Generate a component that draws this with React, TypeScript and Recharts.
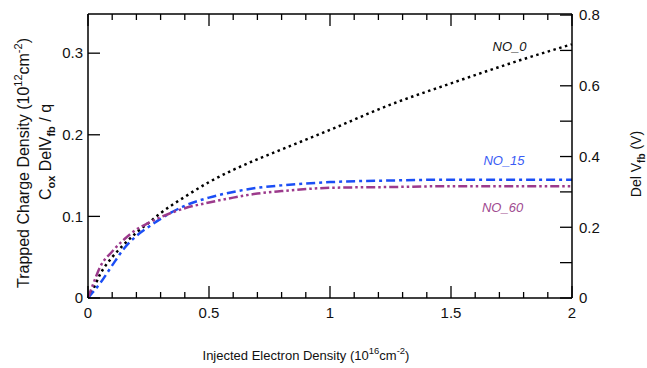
import React from 'react';
import { LineChart, Line, XAxis, YAxis, ReferenceDot } from 'recharts';

const xValues = [0, 0.02, 0.05, 0.1, 0.15, 0.2, 0.25, 0.3, 0.4, 0.5, 0.6, 0.7, 0.8, 1.0, 1.25, 1.5, 1.75, 2.0];
const no0 = [0, 0.01, 0.029, 0.05, 0.066, 0.08, 0.092, 0.104, 0.124, 0.142, 0.157, 0.17, 0.182, 0.206, 0.237, 0.263, 0.288, 0.311];
const no15 = [0, 0.007, 0.018, 0.04, 0.061, 0.076, 0.087, 0.097, 0.113, 0.123, 0.13, 0.135, 0.138, 0.142, 0.144, 0.145, 0.145, 0.145];
const no60 = [0, 0.016, 0.038, 0.057, 0.072, 0.084, 0.092, 0.099, 0.11, 0.117, 0.123, 0.128, 0.131, 0.135, 0.136, 0.137, 0.137, 0.137];

const xTicks = [0, 0.1, 0.2, 0.3, 0.4, 0.5, 0.6, 0.7, 0.8, 0.9, 1, 1.1, 1.2, 1.3, 1.4, 1.5, 1.6, 1.7, 1.8, 1.9, 2];
const xMajor = [0, 0.5, 1, 1.5, 2];
const leftTicks = [0, 0.1, 0.2, 0.3];
const rightTicks = [0, 0.1, 0.2, 0.3, 0.4, 0.5, 0.6, 0.7, 0.8];
const rightLabeled = [0, 0.2, 0.4, 0.6, 0.8];

const data = xValues.map((x, i) => ({ x, no0: no0[i], no15: no15[i], no60: no60[i] }));

const FONT = '"Liberation Sans", Arial, sans-serif';
const TICK_FS = 15;

const isIn = (arr: number[], v: number) => arr.some((a) => Math.abs(a - v) < 1e-6);

const BottomTick = (props: any) => {
  const { x, y, payload } = props;
  const v = payload.value;
  const major = isIn(xMajor, v);
  return (
    <g>
      <line x1={x} y1={y} x2={x} y2={y - (major ? 12 : 6)} stroke="#000" strokeWidth={1.3} />
      {major && (
        <text x={x} y={y + 20} textAnchor="middle" fontSize={TICK_FS} fontFamily={FONT} fill="#111">
          {String(v)}
        </text>
      )}
    </g>
  );
};

const TopTick = (props: any) => {
  const { x, y, payload } = props;
  const major = isIn(xMajor, payload.value);
  return <line x1={x} y1={y} x2={x} y2={y + (major ? 12 : 6)} stroke="#000" strokeWidth={1.3} />;
};

const LeftTick = (props: any) => {
  const { x, y, payload } = props;
  return (
    <g>
      <line x1={x} y1={y} x2={x + 12} y2={y} stroke="#000" strokeWidth={1.3} />
      <text x={x - 5} y={y} dy="0.35em" textAnchor="end" fontSize={TICK_FS} fontFamily={FONT} fill="#111">
        {String(payload.value)}
      </text>
    </g>
  );
};

const RightTick = (props: any) => {
  const { x, y, payload } = props;
  const v = payload.value;
  return (
    <g>
      <line x1={x} y1={y} x2={x - 12} y2={y} stroke="#000" strokeWidth={1.3} />
      {isIn(rightLabeled, v) && (
        <text x={x + 7} y={y} dy="0.35em" textAnchor="start" fontSize={TICK_FS} fontFamily={FONT} fill="#111">
          {String(v)}
        </text>
      )}
    </g>
  );
};

const XTitle = () => (
  <text x={306} y={360} textAnchor="middle" fontSize={13} fontFamily={FONT} fill="#111">
    Injected Electron Density (10
    <tspan dy={-6} fontSize={9.5}>16</tspan>
    <tspan dy={6}>cm</tspan>
    <tspan dy={-6} fontSize={9.5}>-2</tspan>
    <tspan dy={6}>)</tspan>
  </text>
);

const LeftTitle = () => (
  <g>
    <text transform="translate(29,163) rotate(-90)" textAnchor="middle" fontSize={16} fontFamily={FONT} fill="#111">
      Trapped Charge Density (10
      <tspan dy={-7} fontSize={11}>12</tspan>
      <tspan dy={7}>cm</tspan>
      <tspan dy={-7} fontSize={11}>-2</tspan>
      <tspan dy={7}>)</tspan>
    </text>
    <text transform="translate(51,152) rotate(-90)" textAnchor="middle" fontSize={16} fontFamily={FONT} fill="#111">
      C
      <tspan dy={4} fontSize={11} fontWeight="bold">ox</tspan>
      <tspan dy={-4}> DelV</tspan>
      <tspan dy={4} fontSize={11} fontWeight="bold">fb</tspan>
      <tspan dy={-4}> / q</tspan>
    </text>
  </g>
);

const RightTitle = () => (
  <text transform="translate(641,164) rotate(-90)" textAnchor="middle" fontSize={14} fontFamily={FONT} fill="#111">
    Del V
    <tspan dy={4} fontSize={10} fontWeight="bold">fb</tspan>
    <tspan dy={-4}> (V)</tspan>
  </text>
);

export default function App() {
  return (
    <div style={{ position: 'absolute', left: 0, top: 0, width: 647, height: 368, background: '#fff' }}>
      <LineChart width={647} height={368} data={data} margin={{ top: 13, right: 0, bottom: 0, left: 0 }}>
        <XAxis
          xAxisId="bottom"
          dataKey="x"
          type="number"
          domain={[0, 2]}
          ticks={xTicks}
          interval={0}
          height={70}
          tickSize={0}
          tickMargin={0}
          tickLine={false}
          axisLine={{ stroke: '#000', strokeWidth: 1.5 }}
          tick={<BottomTick />}
          label={{ content: () => <XTitle /> }}
        />
        <XAxis
          xAxisId="top"
          orientation="top"
          dataKey="x"
          type="number"
          domain={[0, 2]}
          ticks={xTicks}
          interval={0}
          height={1}
          tickSize={0}
          tickMargin={0}
          tickLine={false}
          axisLine={{ stroke: '#000', strokeWidth: 1.5 }}
          tick={<TopTick />}
        />
        <YAxis
          yAxisId="left"
          type="number"
          domain={[0, 0.348]}
          allowDataOverflow
          ticks={leftTicks}
          interval={0}
          width={88}
          tickSize={0}
          tickMargin={0}
          tickLine={false}
          axisLine={{ stroke: '#000', strokeWidth: 1.5 }}
          tick={<LeftTick />}
          label={{ content: () => <LeftTitle /> }}
        />
        <YAxis
          yAxisId="right"
          orientation="right"
          type="number"
          domain={[0, 0.803]}
          allowDataOverflow
          ticks={rightTicks}
          interval={0}
          width={75}
          tickSize={0}
          tickMargin={0}
          tickLine={false}
          axisLine={{ stroke: '#000', strokeWidth: 1.5 }}
          tick={<RightTick />}
          label={{ content: () => <RightTitle /> }}
        />
        <Line
          xAxisId="bottom"
          yAxisId="left"
          dataKey="no0"
          type="monotone"
          stroke="#000"
          strokeWidth={2.5}
          strokeDasharray="2.5 3.5"
          dot={false}
          isAnimationActive={false}
        />
        <Line
          xAxisId="bottom"
          yAxisId="left"
          dataKey="no15"
          type="monotone"
          stroke="#1b4ef5"
          strokeWidth={2.5}
          strokeDasharray="9 4 3 4"
          dot={false}
          isAnimationActive={false}
        />
        <Line
          xAxisId="bottom"
          yAxisId="left"
          dataKey="no60"
          type="monotone"
          stroke="#9c3a8c"
          strokeWidth={2.5}
          strokeDasharray="9 3 2.5 3 2.5 3"
          dot={false}
          isAnimationActive={false}
        />
        <ReferenceDot
          xAxisId="bottom"
          yAxisId="left"
          x={1.742}
          y={0.3086}
          r={0}
          fill="none"
          stroke="none"
          label={{ value: 'NO_0', position: 'center', fill: '#111', fontStyle: 'italic', fontSize: 13, fontFamily: FONT }}
        />
        <ReferenceDot
          xAxisId="bottom"
          yAxisId="left"
          x={1.719}
          y={0.169}
          r={0}
          fill="none"
          stroke="none"
          label={{ value: 'NO_15', position: 'center', fill: '#3a5cf5', fontStyle: 'italic', fontSize: 13, fontFamily: FONT }}
        />
        <ReferenceDot
          xAxisId="bottom"
          yAxisId="left"
          x={1.713}
          y={0.111}
          r={0}
          fill="none"
          stroke="none"
          label={{ value: 'NO_60', position: 'center', fill: '#a04a90', fontStyle: 'italic', fontSize: 13, fontFamily: FONT }}
        />
      </LineChart>
    </div>
  );
}
